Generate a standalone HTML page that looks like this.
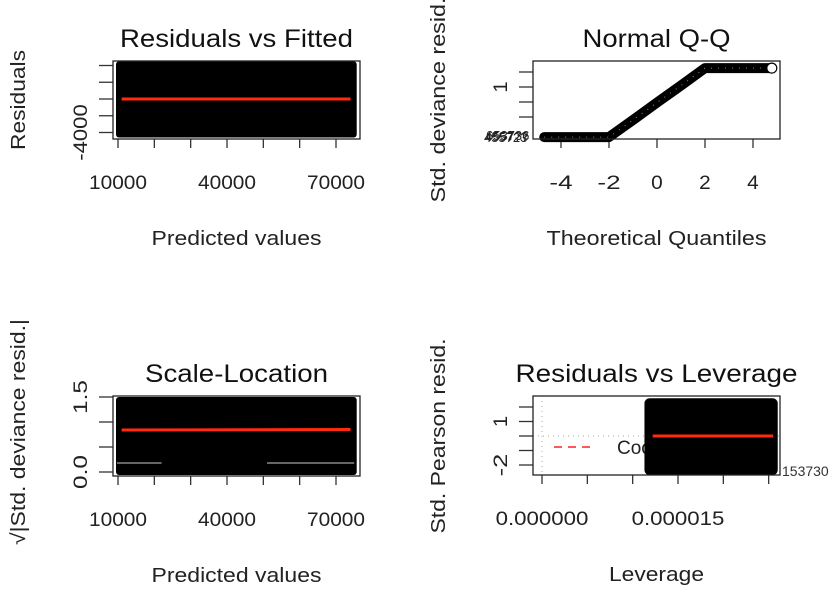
<!DOCTYPE html>
<html><head><meta charset="utf-8"><style>
html,body{margin:0;padding:0;background:#fff;}
svg{display:block;font-family:"Liberation Sans",Arial,sans-serif;}
</style></head><body>
<svg id="plot" width="839" height="597" viewBox="0 0 839 597" xmlns="http://www.w3.org/2000/svg"></svg>
<script>
// ---- Panel 1: Residuals vs Fitted ----
const rvfXTicks = [10000, 20000, 30000, 40000, 50000, 60000, 70000];
const rvfXLabels = ["10000", "", "", "40000", "", "", "70000"];
const rvfYTicks = [-4000, -2000, 0, 2000, 4000];
const rvfYLabels = ["-4000", "", "", "", ""];
const rvfFittedRange = [10000, 75700];
const rvfResidRange = [-4600, 4500];
const rvfSmooth = [[11000, 0], [74000, 0]];
// ---- Panel 2: Normal Q-Q ----
const qqXTicks = [-4, -2, 0, 2, 4];
const qqXLabels = ["-4", "-2", "0", "2", "4"];
const qqYTicks = [0, 0.5, 1, 1.5];
const qqYLabels = ["", "", "1", ""];
const qqTheo = [-4.7, -2.0, -1.0, 0.0, 1.0, 2.0, 4.7];
const qqResid = [-0.67, -0.67, -0.1, 0.48, 1.05, 1.63, 1.63];
// ---- Panel 3: Scale-Location ----
const slXTicks = [10000, 20000, 30000, 40000, 50000, 60000, 70000];
const slXLabels = ["10000", "", "", "40000", "", "", "70000"];
const slYTicks = [0, 0.5, 1.0, 1.5];
const slYLabels = ["0.0", "", "", "1.5"];
const slFittedRange = [10000, 75700];
const slRootRange = [-0.06, 1.5];
const slSmooth = [[11000, 0.84], [74000, 0.85]];
// ---- Panel 4: Residuals vs Leverage ----
const rvlXTicks = [0, 0.000005, 0.00001, 0.000015, 0.00002, 0.000025];
const rvlXLabels = ["0.000000", "", "", "0.000015", "", ""];
const rvlYTicks = [-2, -1, 0, 1, 2];
const rvlYLabels = ["-2", "", "", "1", ""];
const rvlLevRange = [0.0000113, 0.0000260];
const rvlResidRange = [-2.7, 2.6];
const rvlSmooth = [[0.0000122, 0], [0.0000255, 0]];

const svg = document.getElementById('plot');
const NS = 'http://www.w3.org/2000/svg';
function mk(tag, attrs, parent, text) {
  const e = document.createElementNS(NS, tag);
  for (const k in attrs) e.setAttribute(k, attrs[k]);
  if (text !== undefined) e.textContent = text;
  (parent || svg).appendChild(e);
  return e;
}
function lin(d0, d1, r0, r1) { return v => r0 + (v - d0) * (r1 - r0) / (d1 - d0); }

function panel(cfg) {
  const g = mk('g', {});
  
  
  const x = cfg.x, y = cfg.y;
  cfg.xTicks.forEach((t, i) => {
    const px = x(t);
    const l = mk('line', {x1: px, x2: px, y1: cfg.box[3], y2: cfg.box[3] + 9, stroke: '#333', 'stroke-width': 1.3}, g);
    
    
    if (cfg.xLabels[i]) {
      const tx = mk('text', {x: px, y: cfg.box[3] + 50, 'text-anchor': 'middle', 'font-size': 19, fill: '#222', textLength: cfg.xLabels[i].length * 11.6, lengthAdjust: 'spacingAndGlyphs'}, g, cfg.xLabels[i]);
      
      
    }
  });
  cfg.yTicks.forEach((t, i) => {
    const py = y(t);
    const l = mk('line', {x1: cfg.box[0] - 14, x2: cfg.box[0], y1: py, y2: py, stroke: '#333', 'stroke-width': 1.3}, g);
    
    
    if (cfg.yLabels[i]) {
      const lx = cfg.box[0] - 33;
      const tx = mk('text', {x: lx, y: py + 7, 'text-anchor': 'middle', 'font-size': 19, fill: '#222', transform: `rotate(-90 ${lx} ${py})`, textLength: cfg.yLabels[i].length * 11.3, lengthAdjust: 'spacingAndGlyphs'}, g, cfg.yLabels[i]);
      
      
    }
  });
  const cx = (cfg.box[0] + cfg.box[2]) / 2;
  const t = mk('text', {x: cx, y: cfg.box[1] - 14, 'text-anchor': 'middle', 'font-size': 25, fill: '#111', textLength: cfg.titleLen, lengthAdjust: 'spacingAndGlyphs'}, g, cfg.title);
  
  
  const xt = mk('text', {x: cx, y: cfg.box[3] + 106, 'text-anchor': 'middle', 'font-size': 20, fill: '#222', textLength: cfg.xTitleLen, lengthAdjust: 'spacingAndGlyphs'}, g, cfg.xTitle);
  
  
  const yx = cfg.box[0] - 95, yc = cfg.yTitleY;
  const yt = mk('text', {x: yx, y: yc + 7, 'text-anchor': 'middle', 'font-size': 20, fill: '#222', transform: `rotate(-90 ${yx} ${yc})`, textLength: cfg.yTitleLen, lengthAdjust: 'spacingAndGlyphs'}, g, cfg.yTitle);
  
  
  return g;
}
function box(g, b) {
  const r = mk('rect', {x: b[0], y: b[1], width: b[2] - b[0], height: b[3] - b[1], fill: 'none', stroke: '#222', 'stroke-width': 1.3}, g);
  
  
}
function smooth(g, pts, x, y) {
  const l = mk('polyline', {points: pts.map(p => x(p[0]) + ',' + y(p[1])).join(' '), fill: 'none', stroke: '#ff2a10', 'stroke-width': 3}, g);
  
  
}

// Panel 1
{
  const b = [113, 61, 360, 139];
  const x = lin(10000, 40000, 118, 227), y = lin(0, 4000, 99, 65.5);
  const g = panel({name: 'residuals-vs-fitted-panel', box: b, x, y, xTicks: rvfXTicks, xLabels: rvfXLabels, yTicks: rvfYTicks, yLabels: rvfYLabels, title: 'Residuals vs Fitted', titleLen: 233, xTitle: 'Predicted values', xTitleLen: 170, yTitle: 'Residuals', yTitleLen: 100, yTitleY: 100});
  const c = mk('rect', {x: x(rvfFittedRange[0]) - 2, y: y(rvfResidRange[1]), width: x(rvfFittedRange[1]) - x(rvfFittedRange[0]) + 2, height: y(rvfResidRange[0]) - y(rvfResidRange[1]), rx: 3, fill: '#000'}, g);
  
  
  smooth(g, rvfSmooth, x, y);
  box(g, b);
}
// Panel 2
{
  const b = [533, 61, 780, 139];
  const x = lin(0, 2, 657, 705), y = lin(0, 1, 117, 87);
  const g = panel({name: 'normal-qq-panel', box: b, x, y, xTicks: qqXTicks, xLabels: qqXLabels, yTicks: qqYTicks, yLabels: qqYLabels, title: 'Normal Q-Q', titleLen: 148, xTitle: 'Theoretical Quantiles', xTitleLen: 220, yTitle: 'Std. deviance resid.', yTitleLen: 205, yTitleY: 100});
  const pts = qqTheo.map((q, i) => x(q) + ',' + y(qqResid[i])).join(' ');
  const p = mk('polyline', {points: pts, fill: 'none', stroke: '#000', 'stroke-width': 10, 'stroke-linejoin': 'round', 'stroke-linecap': 'round'}, g);
  
  
  const dl = mk('polyline', {points: pts, fill: 'none', stroke: '#888', 'stroke-width': 1, 'stroke-dasharray': '1 6'}, g);
  
  
  const oc = mk('circle', {cx: x(qqTheo[qqTheo.length - 1]) + 2, cy: y(qqResid[qqResid.length - 1]), r: 5, fill: '#fff', stroke: '#000', 'stroke-width': 1.2}, g);
  
  
  ['455723', '4557??', '653736'].forEach((s, i) => {
    const tl = mk('text', {x: 484 + i, y: y(qqResid[0]) + 5 - i, 'font-size': 13, fill: '#222'}, g, s);
    
    
  });
  box(g, b);
}
// Panel 3
{
  const b = [113, 396, 360, 476];
  const x = lin(10000, 40000, 118, 227), y = lin(0, 1.5, 472, 397);
  const g = panel({name: 'scale-location-panel', box: b, x, y, xTicks: slXTicks, xLabels: slXLabels, yTicks: slYTicks, yLabels: slYLabels, title: 'Scale-Location', titleLen: 183, xTitle: 'Predicted values', xTitleLen: 170, yTitle: '√|Std. deviance resid.|', yTitleLen: 226, yTitleY: 432});
  const c = mk('rect', {x: x(slFittedRange[0]) - 2, y: y(slRootRange[1]), width: x(slFittedRange[1]) - x(slFittedRange[0]) + 2, height: y(slRootRange[0]) - y(slRootRange[1]), rx: 3, fill: '#000'}, g);
  
  
  const gy = y(0.18);
  const w1 = mk('line', {x1: x(10000) - 1, x2: x(22000), y1: gy, y2: gy, stroke: '#ccc', 'stroke-width': 1}, g);
  
  
  const w2 = mk('line', {x1: x(51000), x2: x(75000), y1: gy, y2: gy, stroke: '#ccc', 'stroke-width': 1}, g);
  
  
  smooth(g, slSmooth, x, y);
  box(g, b);
}
// Panel 4
{
  const b = [533, 396, 780, 475];
  const x = lin(0, 0.000015, 542, 678), y = lin(0, 1, 436, 421.5);
  const g = panel({name: 'residuals-vs-leverage-panel', box: b, x, y, xTicks: rvlXTicks, xLabels: rvlXLabels, yTicks: rvlYTicks, yLabels: rvlYLabels, title: 'Residuals vs Leverage', titleLen: 282, xTitle: 'Leverage', xTitleLen: 95, yTitle: 'Std. Pearson resid.', yTitleLen: 195, yTitleY: 436});
  const v = mk('line', {x1: x(0), x2: x(0), y1: b[1], y2: b[3], stroke: '#aaa', 'stroke-dasharray': '1 4'}, g);
  
  
  const h = mk('line', {x1: b[0], x2: b[2], y1: y(0), y2: y(0), stroke: '#aaa', 'stroke-dasharray': '1 4'}, g);
  
  
  const lg = mk('g', {}, g);
  
  
  mk('line', {x1: 554, x2: 596, y1: 447, y2: 447, stroke: '#ff4040', 'stroke-width': 1.8, 'stroke-dasharray': '8 6'}, lg);
  mk('text', {x: 617, y: 454, 'font-size': 19, fill: '#222'}, lg, "Cook's distance");
  const c = mk('rect', {x: x(rvlLevRange[0]), y: y(rvlResidRange[1]), width: x(rvlLevRange[1]) - x(rvlLevRange[0]), height: y(rvlResidRange[0]) - y(rvlResidRange[1]), rx: 5, fill: '#000'}, g);
  
  
  smooth(g, rvlSmooth, x, y);
  box(g, b);
  const ol = mk('text', {x: 782, y: 476, 'font-size': 14, fill: '#333'}, g, '153730');
  
  
}
</script>
</body></html>
